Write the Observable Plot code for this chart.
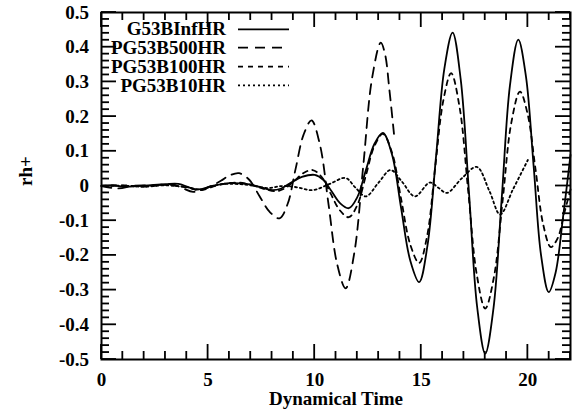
<!DOCTYPE html>
<!-- rh+ vs Dynamical Time, revision 9: filled-rect ticks -->
<html lang="en"><head><meta charset="utf-8"><title>rh+ waveforms</title>
<style>html,body{margin:0;padding:0;background:#ffffff}#chart svg{display:block}</style>
<script src="https://cdn.jsdelivr.net/npm/d3@7"></script>
<script src="https://cdn.jsdelivr.net/npm/@observablehq/plot@0.6"></script>
</head><body><div id="chart"></div>
<script>
// tick values and labels
const xTicks = [0, 5, 10, 15, 20];
const xTickLabels = ["0", "5", "10", "15", "20"];
const yTicks = [-0.5, -0.4, -0.3, -0.2, -0.1, 0, 0.1, 0.2, 0.3, 0.4, 0.5];
const yTickLabels = ["-0.5", "-0.4", "-0.3", "-0.2", "-0.1", "0", "0.1", "0.2", "0.3", "0.4", "0.5"];
const xLabel = "Dynamical Time";
const yLabel = "rh+";
// series: [time, rh+]
const seriesNames = ["G53BInfHR", "PG53B500HR", "PG53B100HR", "PG53B10HR"];
const g53BInfHR = [[0,0],[0.5,0.002],[1,-0.002],[2,0.001],[3,0.005],[3.6,0.006],[4.5,-0.01],[5.2,0],[6,0.008],[6.8,0.006],[7.5,-0.004],[8,-0.012],[8.4,-0.008],[8.9,0.01],[9.4,0.026],[10,0.032],[10.4,0.018],[10.8,-0.016],[11.2,-0.05],[11.6,-0.064],[12,-0.032],[12.4,0.045],[12.8,0.121],[13.2,0.153],[13.63,0.09],[14.05,-0.062],[14.48,-0.214],[14.9,-0.277],[15.29,-0.172],[15.69,0.083],[16.08,0.337],[16.47,0.442],[16.85,0.307],[17.24,-0.02],[17.62,-0.348],[18,-0.483],[18.39,-0.351],[18.78,-0.03],[19.16,0.29],[19.55,0.422],[19.91,0.316],[20.27,0.058],[20.62,-0.2],[20.98,-0.306],[21.3,-0.25],[21.65,-0.09],[22,0.09]];
const pg53B500HR = [[0,0],[0.8,-0.007],[1.5,0.001],[2.5,0.002],[3.3,0.005],[3.8,-0.006],[4.3,-0.017],[5,-0.004],[5.6,0.015],[6,0.03],[6.45,0.037],[6.93,0.018],[7.4,-0.028],[7.88,-0.074],[8.35,-0.093],[8.73,-0.052],[9.1,0.048],[9.48,0.148],[9.85,0.189],[10.25,0.118],[10.65,-0.053],[11.05,-0.224],[11.45,-0.295],[11.86,-0.192],[12.28,0.059],[12.69,0.31],[13.1,0.413],[13.3,0.38],[13.5,0.28],[13.72,0.15]];
const pg53B100HR = [[0,0],[1,0.002],[2,-0.002],[3,0.003],[4,-0.004],[4.6,-0.012],[5.5,0.003],[6.3,0.01],[7,0.004],[7.6,-0.008],[8.2,-0.015],[8.62,-0.006],[9.05,0.015],[9.47,0.037],[9.9,0.046],[10.33,0.026],[10.75,-0.022],[11.18,-0.07],[11.6,-0.09],[12,-0.055],[12.4,0.03],[12.8,0.115],[13.2,0.15],[13.63,0.096],[14.05,-0.036],[14.48,-0.168],[14.9,-0.222],[15.28,-0.142],[15.65,0.052],[16.03,0.245],[16.4,0.325],[16.8,0.226],[17.2,-0.014],[17.6,-0.254],[18,-0.353],[18.41,-0.262],[18.82,-0.04],[19.22,0.181],[19.63,0.272],[19.99,0.207],[20.36,0.048],[20.72,-0.111],[21.08,-0.176],[21.4,-0.15],[21.7,-0.08],[22,-0.01]];
const pg53B10HR = [[0,0],[1,0.001],[2,-0.002],[3,0.002],[4,-0.003],[4.6,-0.01],[5.5,0.004],[6.3,0.006],[7,0.002],[7.8,-0.006],[8.5,0],[9.2,-0.004],[9.9,-0.012],[10.7,0.006],[11.45,0.023],[11.9,-0.004],[12.4,-0.03],[13,0.01],[13.56,0.046],[14.1,0.012],[14.7,-0.03],[15.4,0.01],[15.8,-0.005],[16.2,-0.02],[16.9,0.022],[17.6,0.055],[18.2,-0.015],[18.7,-0.082],[19.3,-0.01],[20,0.075]];

// layout / style
const W = 579, H = 419;
const ML = 101, MR = 9, MT = 12, MB = 60;
const PW = W - ML - MR, PH = H - MT - MB;
const FONT = "Liberation Serif";
const FS = 19;
const dashes = [null, "10,7", "5,5", "2,3"];
const allSeries = [g53BInfHR, pg53B500HR, pg53B100HR, pg53B10HR];
const xMinor = d3.range(0, 23, 1).filter(d => d % 5 !== 0);
const yMinor = d3.range(-25, 26).filter(d => d % 5 !== 0).map(d => d / 50);
const MAJ = 15, MIN = 8, HW = 0.9;

const lineMarks = allSeries.map((s, i) => Plot.line(s, {
  x: d => d[0], y: d => d[1], stroke: "black", strokeWidth: 1.8,
  strokeDasharray: dashes[i], curve: "catmull-rom"
}));
const txt = {label: null, fontSize: FS, fontWeight: "bold", fontFamily: FONT, tickSize: 0};
// ticks as thin filled rectangles spanning the frame, trimmed by insets
const xTickRect = (vals, len, atBottom) => Plot.rect(vals, {
  x1: d => d, x2: d => d, insetLeft: -HW, insetRight: -HW,
  [atBottom ? "insetTop" : "insetBottom"]: PH - len, fill: "black"
});
const yTickRect = (vals, len, atLeft) => Plot.rect(vals, {
  y1: d => d, y2: d => d, insetTop: -HW, insetBottom: -HW,
  [atLeft ? "insetRight" : "insetLeft"]: PW - len, fill: "black"
});

const plot = Plot.plot({
  width: W, height: H,
  marginLeft: ML, marginRight: MR, marginTop: MT, marginBottom: MB,
  x: {domain: [0, 22], label: null},
  y: {domain: [-0.5, 0.5], label: null},
  marks: [
    Plot.axisX({...txt, anchor: "bottom", ticks: xTicks, tickPadding: 12.5, tickFormat: d => xTickLabels[xTicks.indexOf(d)]}),
    Plot.axisY({...txt, anchor: "left", ticks: yTicks, tickPadding: 12.5, tickFormat: d => yTickLabels[yTicks.findIndex(t => Math.abs(t - d) < 1e-9)]}),
    xTickRect(xTicks, MAJ, true), xTickRect(xTicks, MAJ, false),
    xTickRect(xMinor, MIN, true), xTickRect(xMinor, MIN, false),
    yTickRect(yTicks, MAJ, true), yTickRect(yTicks, MAJ, false),
    yTickRect(yMinor, MIN, true), yTickRect(yMinor, MIN, false),
    ...lineMarks,
    Plot.frame({stroke: "black", strokeWidth: 2}),
    Plot.text([xLabel], {text: d => d, frameAnchor: "bottom", dy: 45, fontSize: FS, fontWeight: "bold", fontFamily: FONT}),
    Plot.text([yLabel], {text: d => d, frameAnchor: "left", dx: -76, rotate: -90, fontSize: FS, fontWeight: "bold", fontFamily: FONT})
  ]
});
document.getElementById("chart").appendChild(plot);

// legend inside the plot, top-left
const svg = d3.select(plot);
const lg = svg.append("g").attr("font-family", FONT).attr("font-size", FS).attr("font-weight", "bold");
const rowBase = [34.5, 53.5, 72.5, 91.5];
const rowLine = [29.3, 47.7, 66.7, 85.3];
seriesNames.forEach((name, i) => {
  lg.append("text").attr("x", 226).attr("y", rowBase[i]).attr("text-anchor", "end").attr("fill", "black").text(name);
  lg.append("line").attr("x1", 238).attr("x2", 289).attr("y1", rowLine[i]).attr("y2", rowLine[i])
    .attr("stroke", "black").attr("stroke-width", 1.8).attr("stroke-dasharray", dashes[i]);
});
</script>
</body></html>
